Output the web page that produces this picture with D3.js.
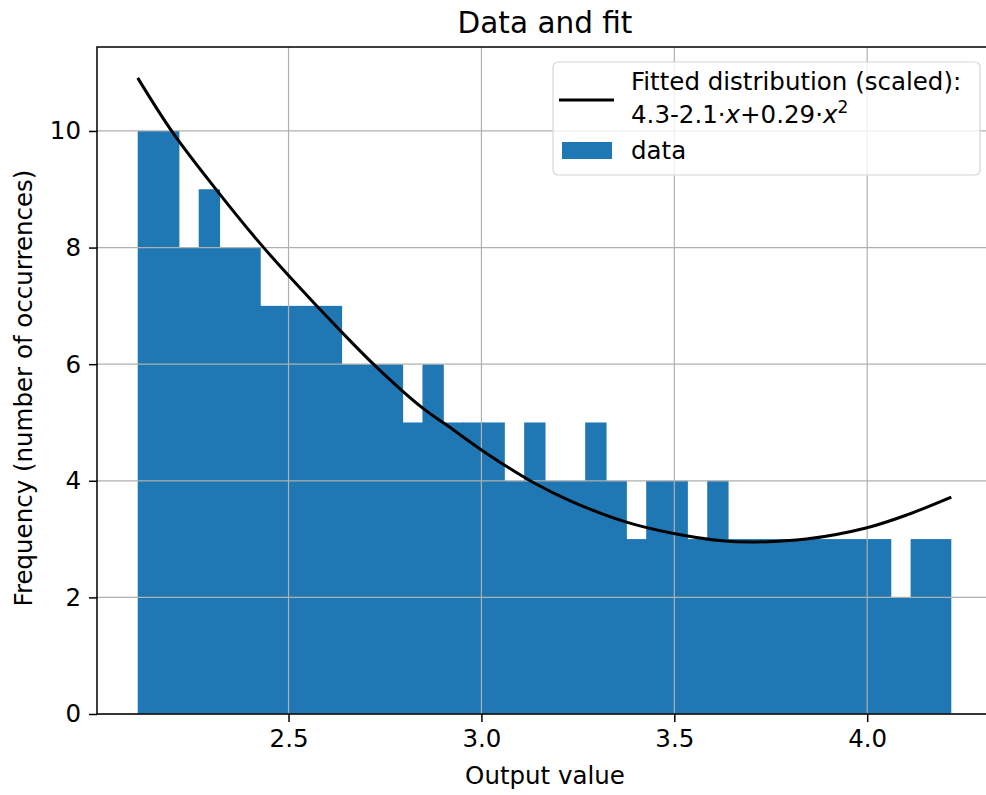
<!DOCTYPE html>
<html>
<head>
<meta charset="utf-8">
<script src="https://cdn.jsdelivr.net/npm/d3@7"></script>
<style>
  body { margin: 0; background: #fff; }
  svg { display: block; font-family: "DejaVu Sans", sans-serif; }
</style>
</head>
<body>
<div id="chart"></div>
<script>
// histogram: 40 equal bins between these edges
const binLo = 2.109;
const binHi = 4.218;
const counts = [10, 10, 8, 9, 8, 8, 7, 7, 7, 7,
                6, 6, 6, 5, 6, 5, 5, 5, 4, 5,
                4, 4, 5, 4, 3, 4, 4, 3, 4, 3,
                3, 3, 3, 3, 3, 3, 3, 2, 3, 3];

// fitted curve
const fitX = [2.109, 2.199, 2.313, 2.425, 2.503, 2.632, 2.728, 2.847, 2.909, 3.0,
              3.132, 3.236, 3.376, 3.495, 3.624, 3.712, 3.842, 3.997, 4.101, 4.218];
const fitY = [10.91, 9.98, 8.99, 8.08, 7.50, 6.59, 5.95, 5.25, 4.96, 4.53,
              3.98, 3.64, 3.29, 3.10, 2.97, 2.95, 3.00, 3.19, 3.41, 3.72];

const xTicks = [2.5, 3.0, 3.5, 4.0];
const yTicks = [0, 2, 4, 6, 8, 10];

const W = 986, H = 795;
const margin = { top: 47, left: 97, bottom: 81, right: -6 };
const width = W - margin.left - margin.right,
      height = H - margin.top - margin.bottom;

const svg = d3.select("#chart").append("svg")
    .attr("width", W)
    .attr("height", H);

const g = svg.append("g")
    .attr("transform", "translate(" + margin.left + "," + margin.top + ")");

const x = d3.scaleLinear().domain([2.0035, 4.3235]).range([0, width]);
const y = d3.scaleLinear().domain([0, 11.44]).range([height, 0]);

const bw = (binHi - binLo) / counts.length;
const bins = counts.map((c, i) => ({ x0: binLo + i * bw, x1: binLo + (i + 1) * bw, n: c }));
const last = bins.length - 1;

g.selectAll("rect.bar")
    .data(bins)
    .enter()
    .append("rect")
    .attr("class", "bar")
    .attr("x", d => x(d.x0))
    .attr("width", (d, i) => x(d.x1) - x(d.x0) + (i < last ? 1 : 0))
    .attr("y", d => y(d.n))
    .attr("height", d => y(0) - y(d.n))
    .attr("fill", "#1f77b4");

// grid (drawn over the bars, like matplotlib)
g.append("g")
    .selectAll("line")
    .data(xTicks)
    .enter().append("line")
    .attr("x1", d => x(d)).attr("x2", d => x(d))
    .attr("y1", 0).attr("y2", height)
    .attr("stroke", "#b0b0b0").attr("stroke-width", 1.2);
g.append("g")
    .selectAll("line")
    .data(yTicks)
    .enter().append("line")
    .attr("x1", 0).attr("x2", width)
    .attr("y1", d => y(d)).attr("y2", d => y(d))
    .attr("stroke", "#b0b0b0").attr("stroke-width", 1.2);

const fit = fitX.map((v, i) => ({ x: v, y: fitY[i] }));
g.append("path")
    .datum(fit)
    .attr("fill", "none")
    .attr("stroke", "#000")
    .attr("stroke-width", 3)
    .attr("d", d3.line().curve(d3.curveCatmullRom.alpha(0.5))
        .x(d => x(d.x))
        .y(d => y(d.y)));

// axes
const xAxis = d3.axisBottom(x).tickValues(xTicks).tickFormat(d3.format(".1f")).tickSize(8).tickPadding(8);
const yAxis = d3.axisLeft(y).tickValues(yTicks).tickFormat(d3.format("d")).tickSize(8).tickPadding(8);

const gx = g.append("g").attr("transform", "translate(0," + height + ")").call(xAxis);
const gy = g.append("g").call(yAxis);
[gx, gy].forEach(a => {
    a.select(".domain").remove();
    a.selectAll("line").attr("stroke", "#000").attr("stroke-width", 1.5);
    a.selectAll("text").attr("fill", "#000").style("font-size", "24.5px")
        .style("font-family", "DejaVu Sans, sans-serif");
});

// spines
g.append("rect")
    .attr("x", 0).attr("y", 0)
    .attr("width", width).attr("height", height)
    .attr("fill", "none")
    .attr("stroke", "#000")
    .attr("stroke-width", 1.5);

// labels
svg.append("text")
    .attr("x", 545).attr("y", 33)
    .attr("text-anchor", "middle")
    .style("font-size", "29.5px")
    .text("Data and fit");

svg.append("text")
    .attr("x", 545).attr("y", 784)
    .attr("text-anchor", "middle")
    .style("font-size", "24.5px")
    .text("Output value");

svg.append("text")
    .attr("transform", "translate(32,388) rotate(-90)")
    .attr("text-anchor", "middle")
    .style("font-size", "24.5px")
    .text("Frequency (number of occurrences)");

// legend
const lg = svg.append("g");
lg.append("rect")
    .attr("x", 553).attr("y", 62)
    .attr("width", 427).attr("height", 113)
    .attr("rx", 5)
    .attr("fill", "#fff").attr("fill-opacity", 0.8)
    .attr("stroke", "#d6d6d6").attr("stroke-width", 1.2);
lg.append("line")
    .attr("x1", 559).attr("x2", 614)
    .attr("y1", 100).attr("y2", 100)
    .attr("stroke", "#000").attr("stroke-width", 3);
lg.append("text")
    .attr("x", 631).attr("y", 90)
    .style("font-size", "24.5px")
    .text("Fitted distribution (scaled):");
const t2 = lg.append("text")
    .attr("x", 631).attr("y", 123)
    .style("font-size", "24.5px");
t2.append("tspan").text("4.3-2.1·");
t2.append("tspan").style("font-style", "italic").text("x");
t2.append("tspan").text("+0.29·");
t2.append("tspan").style("font-style", "italic").text("x");
t2.append("tspan").attr("dy", -10).style("font-size", "17px").text("2");
lg.append("rect")
    .attr("x", 562).attr("y", 142)
    .attr("width", 50).attr("height", 17)
    .attr("fill", "#1f77b4");
lg.append("text")
    .attr("x", 631).attr("y", 159)
    .style("font-size", "24.5px")
    .text("data");
</script>
</body>
</html>
